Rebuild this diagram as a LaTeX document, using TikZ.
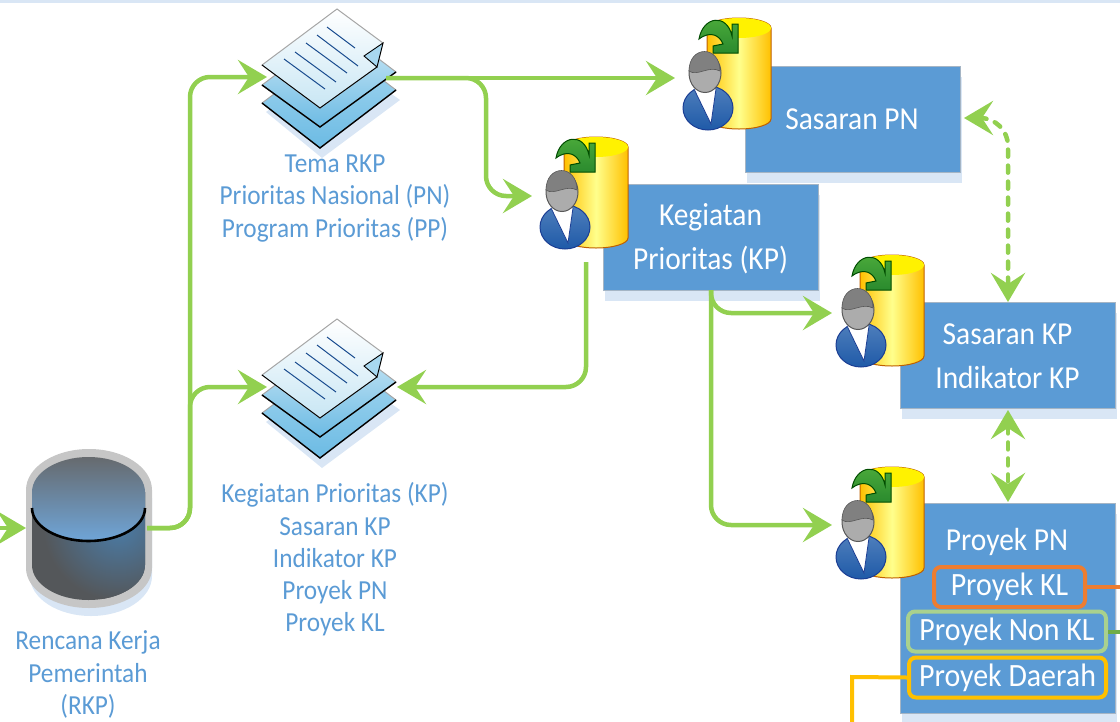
\documentclass[tikz,border=0pt]{standalone}
\usepackage{fontspec}
\setmainfont[FakeStretch=0.92]{Carlito}
\usetikzlibrary{arrows.meta,shadows}
\definecolor{flowgreen}{HTML}{92D050}
\definecolor{boxblue}{HTML}{5B9BD5}
\definecolor{boxshade}{HTML}{D9E6F5}
\definecolor{boxedge}{HTML}{A5B5C5}
\definecolor{labelblue}{HTML}{5B9BD5}
\definecolor{orangeline}{HTML}{ED7D31}
\definecolor{greenline}{HTML}{70AD47}
\definecolor{paleline}{HTML}{A9D18E}
\definecolor{goldline}{HTML}{FFC000}
\definecolor{sheetdeep}{HTML}{6CBBE4}
\definecolor{sheetmid}{HTML}{A8D8F0}
\definecolor{sheetpale}{HTML}{C8E6F4}
\definecolor{sheettop}{HTML}{D5ECF7}
\definecolor{suitlight}{HTML}{4F7FBC}
\definecolor{suitdark}{HTML}{1F5AA8}
\definecolor{suitedge}{HTML}{1B3E94}
\definecolor{arrowlight}{HTML}{4FAE3C}
\definecolor{arrowdark}{HTML}{2A8A2E}
\definecolor{drumface}{HTML}{6FA5D8}
\definecolor{drumtop}{HTML}{666A6E}
\definecolor{drumglow}{HTML}{4A7CA8}
\definecolor{drumdark}{HTML}{54575A}
\tikzset{
  box/.style={fill=boxblue,draw=boxedge,line width=1pt,
    minimum width=215pt,minimum height=106pt,general shadow={fill=boxshade,shadow xshift=2pt,shadow yshift=-11pt}},
  boxtext/.style={text=white,align=center,font=\fontsize{32}{44}\selectfont},
  tagbox/.style={draw=#1,line width=4pt,rounded corners=7pt,text=white,font=\fontsize{32.5}{36}\selectfont,
    minimum height=40pt,inner sep=0pt},
  rkplabel/.style={text=labelblue,align=center,font=\fontsize{27.5}{32.3}\selectfont},
  flow/.style={draw=flowgreen,line width=4.5pt,rounded corners=20pt},
  dashflow/.style={draw=flowgreen,line width=4.5pt,rounded corners=28pt,dash pattern=on 7pt off 9pt,line cap=round},
  tagline/.style={draw=#1,line width=4pt},
  pics/docstack/.style={code={
    \fill[boxshade] (266,112)--(340,57)--(400,100)--(322,158)--cycle;
    \draw[gray!70,line width=1pt,top color=sheetmid,bottom color=sheetdeep] (262,103)--(338,46)--(396,90)--(320,148)--cycle;
    \draw[black,line width=1.4pt] (262,103)--(320,148)--(396,90);
    \draw[gray!70,line width=1pt,top color=sheettop,bottom color=sheetdeep] (262,85)--(338,28)--(396,72)--(320,127)--cycle;
    \draw[black,line width=1.4pt] (262,85)--(320,127)--(396,72);
    \draw[gray!70,line width=1pt,top color=white,bottom color=sheetpale] (262,65)--(337,9)--(383,43)--(377,67)--(320,108)--cycle;
    \draw[black,line width=.9pt] (262,65)--(320,108)--(377,67);
    \draw[black,line width=.9pt,fill=sheetmid] (383,43)--(364,56)--(377,67)--cycle;
    \foreach \xa/\ya/\xb/\yb in {327/27/355/48,317/35/358/66,306/43/347/73,295/52/336/82,284/59/325/89}
      \draw[suitdark!85!black,line width=1pt] (\xa,\ya)--(\xb,\yb);
  }},
  pics/dbuser/.style={code={
    \draw[orange!75!black,line width=1pt,left color=goldline,right color=goldline,middle color=yellow!45]
      (34,17)--(34,108) arc[start angle=180,end angle=360,x radius=32pt,y radius=10pt]--(98,17)
      arc[start angle=0,end angle=180,x radius=32pt,y radius=10pt]--cycle;
    \fill[yellow] (66,17) ellipse[x radius=32pt,y radius=10pt];
    \draw[green!30!black,line width=1pt,top color=arrowlight,bottom color=arrowdark]
      (26,28) .. controls (30,5) and (54,2) .. (59,25)--(59,13)--(65,13)--(65,42)--(40,42)--(40,35)--(50,33)
      .. controls (47,25) and (38,19) .. (26,28)--cycle;
    \draw[suitedge,line width=1pt,top color=suitlight,bottom color=suitdark] (35,97) ellipse[x radius=25pt,y radius=22pt];
    \fill[white] (21,78)--(43,78)--(38,113)--cycle;
    \draw[suitedge,line width=.8pt] (21,78)--(38,113)--(43,78);
    \draw[gray!70!black,line width=1pt,fill=gray!65] (32,62) ellipse[x radius=16pt,y radius=19.5pt];
    \draw[gray!70!black,line width=.6pt,fill=gray] (16,60) .. controls (24,66) and (36,54) .. (47,60)
      .. controls (47,34) and (16,34) .. (16,60)--cycle;
  }},
  pics/rkpdrum/.style={code={
    \fill[boxshade] (30,498)--(30,576) arc[start angle=180,end angle=360,x radius=61pt,y radius=40pt]--(152,498)--cycle;
    \fill[gray!45] (26,490)--(26,568) arc[start angle=180,end angle=360,x radius=63pt,y radius=40pt]--(152,490)
      arc[start angle=0,end angle=180,x radius=63pt,y radius=41pt]--cycle;
    \begin{scope}
      \clip (32,492)--(32,565) arc[start angle=180,end angle=360,x radius=56.5pt,y radius=35pt]--(145,492)--cycle;
      \fill[drumdark] (20,480) rectangle (160,610);
      \shade[inner color=drumglow,outer color=drumdark] (118,525) circle (75);
    \end{scope}
    \draw[top color=drumtop,bottom color=drumface,draw=none] (32,508)--(32,492)
      arc[start angle=180,end angle=0,x radius=56.5pt,y radius=35pt]--(145,508)
      arc[start angle=0,end angle=-180,x radius=56.5pt,y radius=33pt]--cycle;
    \draw[black,line width=2.6pt] (32,508) arc[start angle=180,end angle=360,x radius=56.5pt,y radius=33pt];
  }}
}
\begin{document}
\begin{tikzpicture}[x=1pt,y=-1pt,>={Stealth[length=29pt,width=34pt,inset=11pt]}]
        \useasboundingbox (0,0) rectangle (1120,721);
        \fill[boxshade] (0,0) rectangle (1120,3);
        \node[box] (sasaranPN) at (852.5,119){};
        \node[box] (kegiatanKP) at (710.5,237){};
        \node[box] (sasaranKP) at (1007.5,355){};
        \node[box,minimum height=210pt] (proyekPN) at (1007.5,608){};
        \node at (852,119)[boxtext] (sasaranPNtext){Sasaran PN};
        \node at (710.5,238.5)[boxtext] (kegiatanKPtext){Kegiatan\\Prioritas (KP)};
        \node at (1007.5,356)[boxtext] (sasaranKPtext){Sasaran KP\\Indikator KP};
        \node at (1007,542)[boxtext] (proyekPNtext){Proyek PN};
        \node[tagbox=orangeline,minimum width=151pt] (proyekKL) at (1009.5,587){Proyek KL};
        \node[tagbox=paleline,minimum width=198pt] (proyekNonKL) at (1007,631.5){Proyek Non KL};
        \node[tagbox=goldline,minimum width=197pt] (proyekDaerah) at (1007.5,677.5){Proyek Daerah};
        \pic at (0,0){docstack};
        \pic at (0,310){docstack};
        \pic at (0,0){rkpdrum};
        \pic at (673,11){dbuser};
        \pic at (530,130){dbuser};
        \pic at (826,248){dbuser};
        \pic at (826,460){dbuser};
        \node[rkplabel] (labelTema) at (335,198.5){Tema RKP\\Prioritas Nasional (PN)\\Program Prioritas (PP)};
        \node[rkplabel] (labelKP) at (335,559.5){Kegiatan Prioritas (KP)\\Sasaran KP\\Indikator KP\\Proyek PN\\Proyek KL};
        \node[rkplabel] (labelRKP) at (88,674.5){Rencana Kerja\\Pemerintah\\(RKP)};
        \coordinate (rkpIn) at (-5,528);
        \coordinate (rkpTip) at (26,528);
        \coordinate (rkpOut) at (147,528);
        \coordinate (trunk) at (190,450);
        \coordinate (temaIn) at (267,77);
        \coordinate (temaOut) at (386,78);
        \coordinate (kpDocIn) at (267,387);
        \coordinate (kpDocOut) at (397,387);
        \coordinate (pnIn) at (675,78);
        \coordinate (temaDrop) at (486,140);
        \coordinate (kpIn) at (532,196);
        \coordinate (kpUser) at (586,262);
        \coordinate (kpBottom) at (711,290);
        \coordinate (skpIn) at (832,313);
        \coordinate (proyekIn) at (832,525);
        \coordinate (pnSide) at (964,118);
        \coordinate (skpTop) at (1008,302);
        \coordinate (skpBottom) at (1008,410);
        \coordinate (proyekTop) at (1008,502);
        \coordinate (orangeEnd) at (1125,587);
        \coordinate (greenEnd) at (1125,632);
        \coordinate (goldCorner) at (852,677);
        \coordinate (goldEnd) at (852,725);
        \draw[->,flow] (rkpIn)--(rkpTip);
        \draw[->,flow] (rkpOut) -| (trunk) |- (temaIn);
        \draw[->,flow] (rkpOut) -| (trunk) |- (kpDocIn);
        \draw[->,flow] (temaOut)--(pnIn);
        \draw[->,flow] (temaOut) -| (temaDrop) |- (kpIn);
        \draw[->,flow] (kpUser) |- (kpDocOut);
        \draw[->,flow] (kpBottom) |- (skpIn);
        \draw[->,flow] (kpBottom) |- (proyekIn);
        \draw[<->,dashflow] (pnSide) -| (skpTop);
        \draw[<->,dashflow] (skpBottom)--(proyekTop);
        \draw[tagline=orangeline] (proyekKL.east)--(proyekKL.east-|orangeEnd);
        \draw[tagline=greenline] (proyekNonKL.east)--(proyekNonKL.east-|greenEnd);
        \draw[tagline=goldline] (proyekDaerah.west)--(goldCorner)--(goldEnd);
    \end{tikzpicture}
\end{document}
